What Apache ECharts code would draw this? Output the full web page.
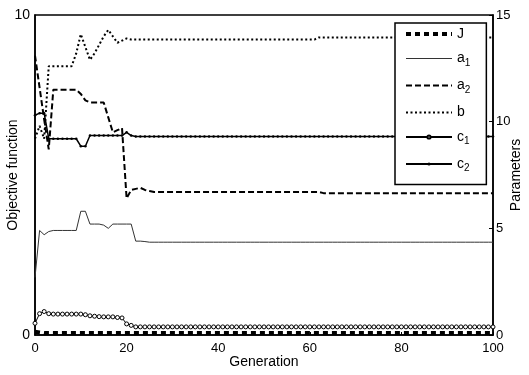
<!DOCTYPE html>
<html>
<head>
<meta charset="utf-8">
<script src="https://cdn.jsdelivr.net/npm/echarts@6/dist/echarts.min.js"></script>
<style>
html, body { margin: 0; padding: 0; background: #fff; }
#chart { width: 529px; height: 375px; }
</style>
</head>
<body>
<div id="chart"></div>
<script>
// generation 0..100
var generations = [];
for (var g = 0; g <= 100; g++) generations.push(g);

// objective function (left axis)
var dataJ = [
    0.10, 0.08, 0.06, 0.06, 0.06, 0.06, 0.06, 0.06, 0.06, 0.06,
    0.06, 0.06, 0.06, 0.06, 0.06, 0.06, 0.06, 0.06, 0.06, 0.06,
    0.06, 0.06, 0.06, 0.06, 0.06, 0.06, 0.06, 0.06, 0.06, 0.06,
    0.06, 0.06, 0.06, 0.06, 0.06, 0.06, 0.06, 0.06, 0.06, 0.06,
    0.06, 0.06, 0.06, 0.06, 0.06, 0.06, 0.06, 0.06, 0.06, 0.06,
    0.06, 0.06, 0.06, 0.06, 0.06, 0.06, 0.06, 0.06, 0.06, 0.06,
    0.06, 0.06, 0.06, 0.06, 0.06, 0.06, 0.06, 0.06, 0.06, 0.06,
    0.06, 0.06, 0.06, 0.06, 0.06, 0.06, 0.06, 0.06, 0.06, 0.06,
    0.06, 0.06, 0.06, 0.06, 0.06, 0.06, 0.06, 0.06, 0.06, 0.06,
    0.06, 0.06, 0.06, 0.06, 0.06, 0.06, 0.06, 0.06, 0.06, 0.06,
    0.06
];

// parameters (right axis)
var dataA1 = [
    2.70, 4.90, 4.70, 4.85, 4.90, 4.90, 4.90, 4.90, 4.90, 4.90,
    5.80, 5.80, 5.20, 5.20, 5.20, 5.15, 5.00, 5.20, 5.20, 5.20,
    5.20, 5.20, 4.40, 4.40, 4.38, 4.35, 4.35, 4.35, 4.35, 4.35,
    4.35, 4.35, 4.35, 4.35, 4.35, 4.35, 4.35, 4.35, 4.35, 4.35,
    4.35, 4.35, 4.35, 4.35, 4.35, 4.35, 4.35, 4.35, 4.35, 4.35,
    4.35, 4.35, 4.35, 4.35, 4.35, 4.35, 4.35, 4.35, 4.35, 4.35,
    4.35, 4.35, 4.35, 4.35, 4.35, 4.35, 4.35, 4.35, 4.35, 4.35,
    4.35, 4.35, 4.35, 4.35, 4.35, 4.35, 4.35, 4.35, 4.35, 4.35,
    4.35, 4.35, 4.35, 4.35, 4.35, 4.35, 4.35, 4.35, 4.35, 4.35,
    4.35, 4.35, 4.35, 4.35, 4.35, 4.35, 4.35, 4.35, 4.35, 4.35,
    4.35
];

var dataA2 = [
    13.1, 11.6, 10.1, 8.70, 11.5, 11.5, 11.5, 11.5, 11.5, 11.5,
    11.3, 11.0, 10.9, 10.9, 10.9, 10.9, 10.2, 9.50, 9.60, 9.70,
    6.40, 6.80, 6.85, 6.90, 6.80, 6.75, 6.70, 6.70, 6.70, 6.70,
    6.70, 6.70, 6.70, 6.70, 6.70, 6.70, 6.70, 6.70, 6.70, 6.70,
    6.70, 6.70, 6.70, 6.70, 6.70, 6.70, 6.70, 6.70, 6.70, 6.70,
    6.70, 6.70, 6.70, 6.70, 6.70, 6.70, 6.70, 6.70, 6.70, 6.70,
    6.70, 6.70, 6.70, 6.65, 6.65, 6.65, 6.65, 6.65, 6.65, 6.65,
    6.65, 6.65, 6.65, 6.65, 6.65, 6.65, 6.65, 6.65, 6.65, 6.65,
    6.65, 6.65, 6.65, 6.65, 6.65, 6.65, 6.65, 6.65, 6.65, 6.65,
    6.65, 6.65, 6.65, 6.65, 6.65, 6.65, 6.65, 6.65, 6.65, 6.65,
    6.65
];

var dataB = [
    9.20, 9.80, 9.20, 12.6, 12.6, 12.6, 12.6, 12.6, 12.6, 13.2,
    14.1, 13.5, 12.9, 13.2, 13.6, 14.0, 14.3, 14.0, 13.7, 13.8,
    13.9, 13.85, 13.85, 13.85, 13.85, 13.85, 13.85, 13.85, 13.85, 13.85,
    13.85, 13.85, 13.85, 13.85, 13.85, 13.85, 13.85, 13.85, 13.85, 13.85,
    13.85, 13.85, 13.85, 13.85, 13.85, 13.85, 13.85, 13.85, 13.85, 13.85,
    13.85, 13.85, 13.85, 13.85, 13.85, 13.85, 13.85, 13.85, 13.85, 13.85,
    13.85, 13.85, 13.95, 13.95, 13.95, 13.95, 13.95, 13.95, 13.95, 13.95,
    13.95, 13.95, 13.95, 13.95, 13.95, 13.95, 13.95, 13.95, 13.95, 13.95,
    13.95, 13.95, 13.95, 13.95, 13.95, 13.95, 13.95, 13.95, 13.95, 13.95,
    13.95, 13.95, 13.95, 13.95, 13.95, 13.95, 13.95, 13.95, 13.95, 13.95,
    13.95
];

var dataC1 = [
    0.55, 1.00, 1.10, 1.00, 0.98, 0.98, 0.98, 0.98, 0.98, 0.98,
    0.98, 0.95, 0.90, 0.88, 0.86, 0.85, 0.85, 0.85, 0.82, 0.80,
    0.52, 0.45, 0.38, 0.38, 0.38, 0.38, 0.38, 0.38, 0.38, 0.38,
    0.38, 0.38, 0.38, 0.38, 0.38, 0.38, 0.38, 0.38, 0.38, 0.38,
    0.38, 0.38, 0.38, 0.38, 0.38, 0.38, 0.38, 0.38, 0.38, 0.38,
    0.38, 0.38, 0.38, 0.38, 0.38, 0.38, 0.38, 0.38, 0.38, 0.38,
    0.38, 0.38, 0.38, 0.38, 0.38, 0.38, 0.38, 0.38, 0.38, 0.38,
    0.38, 0.38, 0.38, 0.38, 0.38, 0.38, 0.38, 0.38, 0.38, 0.38,
    0.38, 0.38, 0.38, 0.38, 0.38, 0.38, 0.38, 0.38, 0.38, 0.38,
    0.38, 0.38, 0.38, 0.38, 0.38, 0.38, 0.38, 0.38, 0.38, 0.38,
    0.38
];

var dataC2 = [
    10.3, 10.4, 10.4, 9.20, 9.20, 9.20, 9.20, 9.20, 9.20, 9.20,
    8.85, 8.85, 9.35, 9.35, 9.35, 9.35, 9.35, 9.35, 9.35, 9.35,
    9.50, 9.35, 9.30, 9.30, 9.30, 9.30, 9.30, 9.30, 9.30, 9.30,
    9.30, 9.30, 9.30, 9.30, 9.30, 9.30, 9.30, 9.30, 9.30, 9.30,
    9.30, 9.30, 9.30, 9.30, 9.30, 9.30, 9.30, 9.30, 9.30, 9.30,
    9.30, 9.30, 9.30, 9.30, 9.30, 9.30, 9.30, 9.30, 9.30, 9.30,
    9.30, 9.30, 9.30, 9.30, 9.30, 9.30, 9.30, 9.30, 9.30, 9.30,
    9.30, 9.30, 9.30, 9.30, 9.30, 9.30, 9.30, 9.30, 9.30, 9.30,
    9.30, 9.30, 9.30, 9.30, 9.30, 9.30, 9.30, 9.30, 9.30, 9.30,
    9.30, 9.30, 9.30, 9.30, 9.30, 9.30, 9.30, 9.30, 9.30, 9.30,
    9.30
];

var legendLabels = { 'J': 'J', 'a1': 'a{s|1}', 'a2': 'a{s|2}', 'b': 'b', 'c1': 'c{s|1}', 'c2': 'c{s|2}' };

function pairs(arr) {
    return arr.map(function (v, i) { return [generations[i], v]; });
}

var FONT = 'Liberation Sans, Arial, sans-serif';

var chart = echarts.init(document.getElementById('chart'), null, { renderer: 'canvas' });

chart.setOption({
    animation: false,
    backgroundColor: '#fff',
    grid: {
        left: 35,
        right: 36,
        top: 15,
        bottom: 40,
        containLabel: false,
        outerBoundsMode: 'none',
        show: true,
        borderColor: '#000',
        borderWidth: 1.5
    },
    legend: {
        orient: 'vertical',
        left: 395,
        top: 23,
        data: [
            { name: 'J', itemStyle: { opacity: 0 }, lineStyle: { width: 4 } },
            { name: 'a1', itemStyle: { opacity: 0 }, lineStyle: { width: 1 } },
            { name: 'a2', itemStyle: { opacity: 0 }, lineStyle: { width: 2 } },
            { name: 'b', itemStyle: { opacity: 0 }, lineStyle: { width: 2 } },
            { name: 'c1' },
            { name: 'c2' }
        ],
        itemWidth: 46,
        itemHeight: 4,
        itemGap: 10.5,
        padding: [4, 16, 11, 9],
        borderColor: '#000',
        borderWidth: 1.5,
        backgroundColor: '#fff',
        formatter: function (name) { return legendLabels[name]; },
        textStyle: {
            fontFamily: FONT,
            fontSize: 14,
            color: '#000',
            rich: {
                s: { fontFamily: FONT, fontSize: 10, color: '#000', padding: [9, 0, 0, 0] }
            }
        }
    },
    xAxis: {
        type: 'value',
        min: 0,
        max: 100,
        interval: 20,
        name: 'Generation',
        nameLocation: 'middle',
        nameGap: 20,
        nameMoveOverlap: false,
        nameTextStyle: { fontFamily: FONT, fontSize: 14, color: '#000' },
        axisLine: { lineStyle: { color: '#000', width: 1.5 } },
        axisTick: { inside: true, length: 3, lineStyle: { color: '#000' } },
        axisLabel: { fontFamily: FONT, fontSize: 13, color: '#000', margin: 7 },
        splitLine: { show: false }
    },
    yAxis: [
        {
            type: 'value',
            min: 0,
            max: 10,
            interval: 10,
            name: 'Objective function',
            nameLocation: 'middle',
            nameRotate: 90,
            nameGap: 15,
            nameMoveOverlap: false,
            nameTextStyle: { fontFamily: FONT, fontSize: 14, color: '#000' },
            axisLine: { show: true, lineStyle: { color: '#000', width: 1.5 } },
            axisTick: { show: false },
            axisLabel: { fontFamily: FONT, fontSize: 14, color: '#000', margin: 5 },
            splitLine: { show: false }
        },
        {
            type: 'value',
            position: 'right',
            min: 0,
            max: 15,
            interval: 5,
            name: 'Parameters',
            nameLocation: 'middle',
            nameRotate: 90,
            nameGap: 16,
            nameMoveOverlap: false,
            nameTextStyle: { fontFamily: FONT, fontSize: 14, color: '#000' },
            axisLine: { show: true, lineStyle: { color: '#000', width: 1.5 } },
            axisTick: { show: true, inside: true, length: 4, lineStyle: { color: '#000' } },
            axisLabel: { fontFamily: FONT, fontSize: 13, color: '#000', margin: 3 },
            splitLine: { show: false }
        }
    ],
    series: [
        {
            name: 'a1',
            type: 'line',
            yAxisIndex: 1,
            symbol: 'none',
            itemStyle: { color: '#333' },
            lineStyle: { color: '#333', width: 1 },
            data: pairs(dataA1)
        },
        {
            name: 'a2',
            type: 'line',
            yAxisIndex: 1,
            symbol: 'none',
            itemStyle: { color: '#000' },
            lineStyle: { color: '#000', width: 2, type: [6, 3] },
            data: pairs(dataA2)
        },
        {
            name: 'b',
            type: 'line',
            yAxisIndex: 1,
            symbol: 'none',
            itemStyle: { color: '#000' },
            lineStyle: { color: '#000', width: 2, type: [2, 2.5] },
            data: pairs(dataB)
        },
        {
            name: 'c1',
            type: 'line',
            yAxisIndex: 1,
            symbol: 'circle',
            symbolSize: 4,
            showAllSymbol: true,
            itemStyle: { color: '#fff', borderColor: '#000', borderWidth: 1 },
            lineStyle: { color: '#000', width: 1 },
            data: pairs(dataC1)
        },
        {
            name: 'c2',
            type: 'line',
            yAxisIndex: 1,
            symbol: 'circle',
            symbolSize: 2.5,
            showAllSymbol: true,
            itemStyle: { color: '#000' },
            lineStyle: { color: '#000', width: 1.5 },
            data: pairs(dataC2)
        },
        {
            name: 'J',
            type: 'line',
            yAxisIndex: 0,
            symbol: 'none',
            itemStyle: { color: '#000' },
            lineStyle: { color: '#000', width: 4, type: [5, 4] },
            data: pairs(dataJ)
        }
    ]
});
</script>
</body>
</html>
